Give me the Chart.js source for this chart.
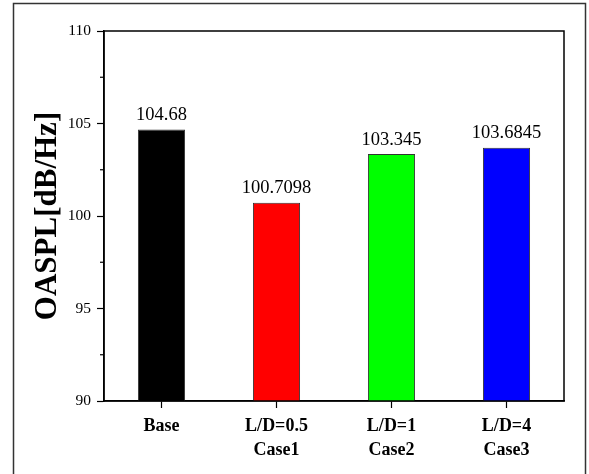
<!DOCTYPE html>
<html>
<head>
<meta charset="utf-8">
<script src="https://cdn.jsdelivr.net/npm/chart.js@4/dist/chart.umd.min.js"></script>
<style>
  html, body { margin: 0; padding: 0; background: #fff; }
  #wrap { width: 589px; height: 474px; }
</style>
</head>
<body>
<div id="wrap"><canvas id="oasplChart" width="589" height="474"></canvas></div>
<script>
const categories = [['Base'], ['L/D=0.5', 'Case1'], ['L/D=1', 'Case2'], ['L/D=4', 'Case3']];
const oaspl = [104.68, 100.7098, 103.345, 103.6845];
const barColors = ['#000000', '#ff0000', '#00ff00', '#0000ff'];
const yTicks = [90, 95, 100, 105, 110];

const serif = "'Times New Roman', 'Liberation Serif', serif";

// outer frame around the figure
const framePlugin = {
  id: 'frame',
  afterDraw(chart) {
    const ctx = chart.ctx;
    ctx.save();
    ctx.strokeStyle = '#333';
    ctx.lineWidth = 1.5;
    ctx.strokeRect(13.5, 3.5, 572, 490);
    ctx.restore();
  }
};

// closed box around plot area + minor ticks on y axis
const boxPlugin = {
  id: 'plotBox',
  afterDraw(chart) {
    const {ctx, chartArea: a} = chart;
    const y = chart.scales.y;
    ctx.save();
    ctx.strokeStyle = '#000';
    ctx.lineWidth = 1.5;
    ctx.strokeRect(a.left, a.top, a.right - a.left, a.bottom - a.top);
    ctx.lineWidth = 1.2;
    for (let i = 0; i < yTicks.length - 1; i++) {
      const py = y.getPixelForValue((yTicks[i] + yTicks[i + 1]) / 2);
      ctx.beginPath();
      ctx.moveTo(a.left - 4, py);
      ctx.lineTo(a.left, py);
      ctx.stroke();
    }
    ctx.restore();
  }
};

// value printed above each bar
const valueLabels = {
  id: 'valueLabels',
  afterDatasetsDraw(chart) {
    const ctx = chart.ctx;
    const meta = chart.getDatasetMeta(0);
    ctx.save();
    ctx.font = '18.5px ' + serif;
    ctx.fillStyle = '#000';
    ctx.textAlign = 'center';
    ctx.textBaseline = 'bottom';
    meta.data.forEach((bar, i) => {
      ctx.fillText(String(oaspl[i]), bar.x, bar.y - 5);
    });
    ctx.restore();
  }
};

new Chart(document.getElementById('oasplChart').getContext('2d'), {
  type: 'bar',
  data: {
    labels: categories,
    datasets: [{
      data: oaspl,
      backgroundColor: barColors,
      borderColor: '#333',
      borderWidth: 1,
      categoryPercentage: 1,
      barPercentage: 0.41
    }]
  },
  options: {
    responsive: false,
    animation: false,
    devicePixelRatio: 1,
    layout: { padding: { left: 0, top: 31, right: 25, bottom: 0 } },
    plugins: {
      legend: { display: false },
      tooltip: { enabled: false }
    },
    scales: {
      x: {
        afterFit: s => { s.height = 73; },
        border: { display: true, color: '#000', width: 1.5 },
        grid: {
          offset: false,
          drawOnChartArea: false,
          drawTicks: true,
          tickLength: 7,
          color: '#000',
          tickWidth: 1.2
        },
        ticks: {
          color: '#000',
          padding: 7,
          maxRotation: 0,
          autoSkip: false,
          font: { family: serif, size: 18, weight: 'bold', lineHeight: 1.3 }
        }
      },
      y: {
        min: 90,
        max: 110,
        afterFit: s => { s.width = 104; },
        afterBuildTicks: s => { s.ticks = yTicks.map(v => ({ value: v })); },
        border: { display: true, color: '#000', width: 1.5 },
        grid: {
          drawOnChartArea: false,
          drawTicks: true,
          tickLength: 7,
          color: '#000',
          tickWidth: 1.2
        },
        ticks: {
          color: '#000',
          padding: 6,
          font: { family: serif, size: 15.5 }
        },
        title: {
          display: true,
          text: 'OASPL[dB/Hz]',
          color: '#000',
          align: 'center',
          padding: { top: 29, bottom: 0 },
          font: { family: serif, size: 31, weight: 'bold', lineHeight: 1.2 }
        }
      }
    }
  },
  plugins: [framePlugin, boxPlugin, valueLabels]
});
</script>
</body>
</html>
